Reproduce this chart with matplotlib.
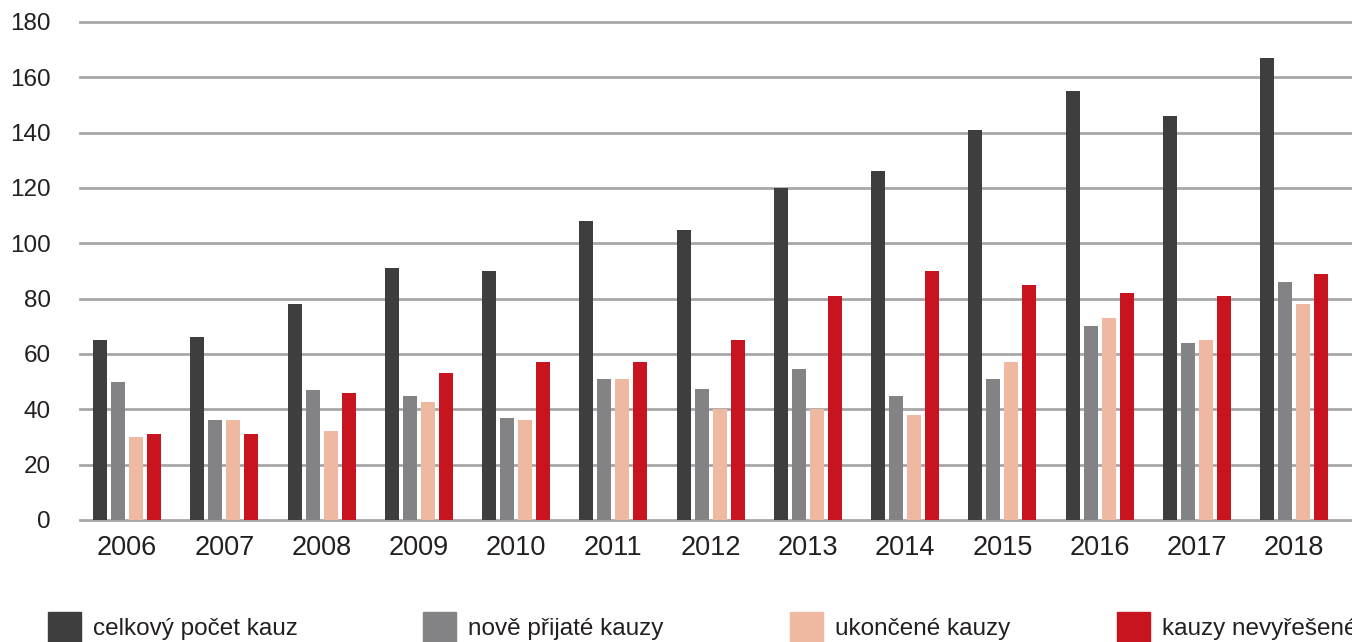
import matplotlib
matplotlib.use("Agg")
import matplotlib.pyplot as plt
from matplotlib.patches import Rectangle
import numpy as np

plt.rcParams['font.family'] = ['Liberation Sans', 'DejaVu Sans']

years = ["2006", "2007", "2008", "2009", "2010", "2011", "2012",
         "2013", "2014", "2015", "2016", "2017", "2018"]
celkovy = [65, 66, 78, 91, 90, 108, 105, 120, 126, 141, 155, 146, 167]
nove = [50, 36, 47, 45, 37, 51, 47.5, 54.5, 45, 51, 70, 64, 86]
ukoncene = [30, 36, 32, 42.5, 36, 51, 40, 40, 38, 57, 73, 65, 78]
nevyresene = [31, 31, 46, 53, 57, 57, 65, 81, 90, 85, 82, 81, 89]
series_names = ["celkový počet kauz", "nově přijaté kauzy", "ukončené kauzy", "kauzy nevyřešené"]
colors = ["#3e3e3e", "#838386", "#eeb9a0", "#c8141f"]

W, H = 1352, 642
fig = plt.figure(figsize=(W / 100, H / 100), dpi=100)
ax = fig.add_axes([80 / W, 122 / H, 1 - 80 / W, 498 / H])

gp = 97.25  # pixels per group
x = np.arange(len(years))
step = 18 / gp
width = 14 / gp
for i, (vals, c) in enumerate(zip([celkovy, nove, ukoncene, nevyresene], colors)):
    ax.bar(x + (i - 1.5) * step, vals, width=width, color=c, zorder=3, linewidth=0)

ax.set_xlim(-0.5 + 1.5 / gp, -0.5 + 1.5 / gp + (W - 80) / gp)
ax.set_ylim(0, 180)
yt = np.arange(0, 181, 20)
for y in yt:
    ax.axhline(y, color="#a7a7aa", linewidth=2, zorder=1, clip_on=False)
ax.set_yticks(yt)
ax.set_yticklabels([str(v) for v in yt])
ax.set_xticks(x)
ax.set_xticklabels(years)
ax.tick_params(axis='y', length=0, pad=21, labelsize=17.5, labelcolor="#231f20")
ax.tick_params(axis='x', length=0, pad=11, labelsize=19.5, labelcolor="#231f20")
for s in ax.spines.values():
    s.set_visible(False)

# legend
leg_x = [48, 423, 790, 1117]
for lx, name, c in zip(leg_x, series_names, colors):
    fig.patches.append(Rectangle((lx / W, 0), 33 / W, 30 / H, transform=fig.transFigure,
                                 color=c, figure=fig))
    fig.text((lx + 45) / W, 13 / H, name, fontsize=17.5, color="#231f20", va='center', ha='left')

fig.savefig("out.png", dpi=100)
